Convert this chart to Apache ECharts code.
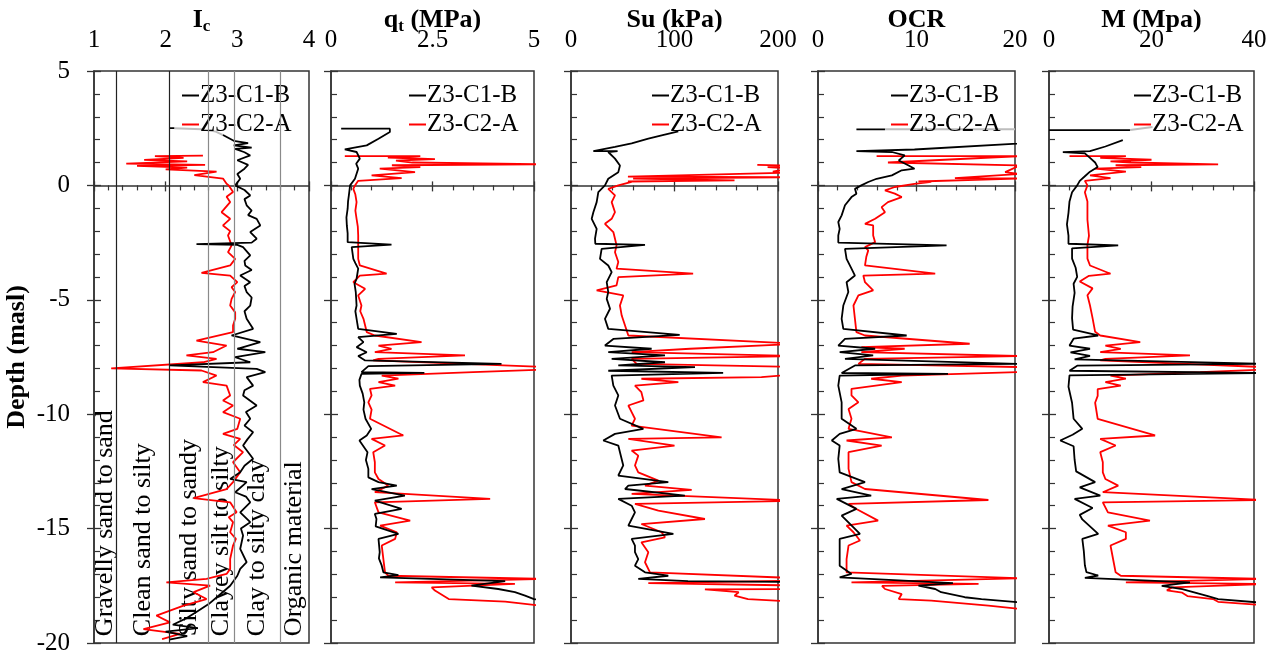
<!DOCTYPE html>
<html><head><meta charset="utf-8">
<script src="https://cdn.jsdelivr.net/npm/echarts@6/dist/echarts.min.js"></script>
<style>html,body{margin:0;padding:0;background:#fff}#c{width:1285px;height:655px}</style>
</head><body><div id="c"></div>
<script>
// ---------------- DATA: [value, depth (masl)]; ['-','-'] marks a gap ----------------
const seriesNames = ['Z3-C1-B', 'Z3-C2-A'];

// Ic zone boundaries and labels
const icZones = [1.31, 2.05, 2.6, 2.95, 3.6];
const icZoneLabels = ['Gravelly sand to sand', 'Clean sand to silty', 'Silty sand to sandy', 'Clayey silt to silty', 'Clay to silty clay', 'Organic material'];

const icC1 = [[2.06,2.5],[2.12,2.5],['-','-'],[2.8,2.2],[2.95,1.95],[3.15,1.85],[2.95,1.75],[3.2,1.65],[2.97,1.6],[3.1,1.45],[3.18,1.31],[3.0,1.1],[3.15,0.9],[3.1,0.73],[3.0,0.5],[3.04,0.29],[2.97,0],[3.1,-0.2],[3.18,-0.44],[3.1,-0.6],[3.13,-0.87],[3.2,-1.1],[3.15,-1.3],[3.27,-1.46],[3.32,-1.75],[3.18,-2.04],[3.27,-2.33],[3.2,-2.5],[2.43,-2.57],[3.0,-2.6],[3.08,-2.7],[3.18,-3.06],[3.1,-3.3],[3.11,-3.5],[3.2,-3.7],[3.04,-3.94],[3.18,-4.23],[3.1,-4.4],[3.13,-4.66],[3.2,-4.9],[3.18,-5.25],[3.1,-5.5],[3.13,-5.83],[3.22,-6.27],[2.92,-6.56],[3.32,-6.85],[3.0,-7.14],[3.39,-7.29],[2.97,-7.51],[3.18,-7.73],[2.06,-7.87],[3.27,-8.02],[3.39,-8.16],[3.13,-8.38],[3.22,-8.75],[3.1,-8.95],[3.08,-9.18],[3.27,-9.62],[3.12,-9.9],[3.18,-10.2],[3.1,-10.5],[3.22,-10.79],[3.14,-11.1],[3.08,-11.37],[3.22,-11.95],[3.1,-12.25],[3.04,-12.54],[2.9,-12.83],[3.13,-12.97],[2.97,-13.41],[3.12,-13.6],[3.18,-13.85],[3.04,-14.29],[3.18,-14.72],[3.05,-15.0],[3.08,-15.3],[3.04,-15.89],[3.13,-16.47],[3.04,-16.76],[3.0,-17.06],[2.9,-17.5],[2.75,-17.9],[2.6,-18.3],[2.45,-18.6],[2.3,-18.9],[2.1,-19.2],[2.45,-19.35],[2.0,-19.5],[2.3,-19.7],[2.05,-19.85]];
const icC2 = [[2.52,1.3],[1.85,1.28],[2.25,1.2],[1.7,1.12],[2.3,1.05],[1.45,0.95],[2.55,0.9],[1.6,0.85],[2.3,0.78],[2.0,0.7],[2.71,0.6],[2.4,0.45],[2.8,0.3],[2.85,0.07],[2.88,0],[2.94,-0.29],[2.85,-0.5],[2.9,-0.73],[2.78,-1.17],[2.9,-1.46],[2.8,-1.75],[2.9,-2.0],[2.87,-2.19],[2.92,-2.62],[2.87,-2.92],[2.97,-3.21],[2.9,-3.5],[2.5,-3.82],[2.9,-3.94],[3.0,-4.23],[2.92,-4.45],[2.97,-4.66],[2.92,-4.96],[2.9,-5.25],[2.97,-5.55],[2.97,-5.83],[2.94,-6.12],[2.94,-6.41],[2.43,-6.78],[2.85,-7.0],[2.66,-7.29],[2.29,-7.43],[2.71,-7.58],[2.52,-7.73],[1.24,-8.0],[2.5,-8.09],[2.71,-8.31],[2.52,-8.6],[2.85,-8.75],[2.9,-9.18],[2.8,-9.4],[2.94,-9.62],[2.8,-9.91],[3.04,-10.2],[3.0,-10.64],[2.8,-10.86],[3.04,-11.08],[2.95,-11.35],[3.08,-11.66],[2.94,-12.1],[3.04,-12.54],[2.94,-12.97],[2.85,-13.27],[2.39,-13.67],[2.9,-13.85],[2.99,-14.29],[2.88,-14.5],[2.94,-14.72],[2.9,-15.16],[2.98,-15.45],[2.94,-15.74],[2.9,-16.33],[2.9,-16.76],[2.85,-16.98],[2.57,-17.2],[2.01,-17.35],[2.62,-17.49],[2.39,-17.78],[2.57,-18.08],[2.25,-18.37],[1.87,-18.8],[2.06,-19.1],[1.69,-19.39],[2.2,-19.6],[1.95,-19.83]];
const icGrey = [[2.12,2.5],[2.5,2.45],[2.7,2.35],[2.8,2.2]];

const qtC1 = [[0.25,2.48],[1.45,2.48],[1.45,2.33],[1.17,2.04],[0.88,1.75],[0.34,1.57],[0.63,1.46],[0.71,1.17],[0.62,0.95],[0.67,0.73],[0.59,0.29],[0.47,0],[0.44,-0.44],[0.42,-0.7],[0.41,-1.02],[0.38,-1.4],[0.39,-1.75],[0.41,-2.1],[0.41,-2.48],[1.49,-2.59],[0.51,-2.7],[0.55,-3.21],[0.6,-3.4],[0.67,-3.64],[0.63,-4.08],[0.58,-4.3],[0.61,-4.66],[0.63,-5.25],[0.6,-5.5],[0.63,-5.83],[0.67,-6.27],[1.62,-6.49],[0.67,-6.63],[0.8,-6.85],[0.63,-7.07],[0.88,-7.29],[0.67,-7.46],[0.84,-7.65],[4.2,-7.8],[0.92,-7.9],[0.75,-8.16],[2.3,-8.19],[0.75,-8.24],[0.7,-8.5],[0.71,-8.75],[0.78,-9.1],[0.82,-9.48],[0.8,-9.8],[0.85,-10.2],[0.99,-10.64],[0.88,-10.93],[0.7,-11.15],[0.9,-11.66],[0.86,-12.0],[0.92,-12.39],[0.92,-12.76],[1.17,-12.97],[1.62,-13.12],[1.0,-13.27],[1.82,-13.56],[1.08,-13.78],[1.74,-14.14],[1.08,-14.36],[1.12,-14.58],[1.1,-14.9],[1.66,-15.23],[1.17,-15.45],[1.2,-16.03],[1.18,-16.3],[1.25,-16.62],[1.29,-16.91],[1.66,-17.03],[1.21,-17.13],[4.29,-17.3],[3.46,-17.49],[4.12,-17.64],[4.53,-17.78],[4.78,-17.93],[5.0,-18.08],[5.4,-18.2]];
const qtC2 = [[0.34,1.28],[2.2,1.28],[1.4,1.22],[2.56,1.15],[1.6,1.08],[2.0,1.0],[5.3,0.92],[1.5,0.88],[2.2,0.8],[1.2,0.73],[2.07,0.58],[1.0,0.44],[1.74,0.32],[0.67,0.2],[0.59,0],[0.55,-0.15],[0.6,-0.4],[0.63,-0.73],[0.6,-1.1],[0.63,-1.46],[0.66,-1.8],[0.67,-2.19],[0.67,-2.62],[0.67,-2.92],[0.67,-3.21],[0.71,-3.5],[1.37,-3.86],[0.71,-3.94],[0.55,-4.23],[0.84,-4.52],[0.67,-4.81],[0.75,-5.25],[0.72,-5.5],[0.8,-5.83],[0.88,-6.41],[1.08,-6.56],[2.23,-6.85],[1.17,-7.0],[1.49,-7.14],[1.08,-7.29],[3.3,-7.43],[1.17,-7.58],[1.04,-7.65],[5.3,-7.94],[5.3,-8.05],[3.5,-8.16],[1.25,-8.31],[1.66,-8.45],[1.17,-8.6],[1.58,-8.75],[0.96,-8.89],[1.0,-9.18],[0.92,-9.48],[1.0,-9.8],[0.96,-10.2],[1.78,-10.93],[1.0,-11.08],[1.33,-11.37],[1.04,-11.66],[1.08,-12.1],[1.08,-12.54],[1.17,-12.83],[1.41,-13.12],[1.08,-13.41],[3.92,-13.7],[1.08,-13.85],[1.17,-14.29],[1.95,-14.65],[1.21,-14.87],[1.62,-15.16],[1.58,-15.45],[1.25,-15.74],[1.29,-16.33],[1.33,-16.91],[1.41,-17.06],[5.3,-17.2],[1.58,-17.35],[4.53,-17.42],[2.48,-17.57],[2.56,-17.71],[2.9,-18.08],[4.29,-18.19],[5.3,-18.4]];

const suC1 = [[103.7,2.36],[87.6,2.19],[74.7,2.04],[58.6,1.84],[42.5,1.68],[21.6,1.5],[45,1.5],[36,1.46],[42.5,1.17],[47.3,0.87],[45.7,0.58],[36,0.29],[32.8,0],[26.4,-0.29],[24.8,-0.73],[21.6,-1.17],[20,-1.46],[24.8,-1.9],[23.2,-2.33],[23.5,-2.55],[71.5,-2.6],[29.6,-2.77],[28,-3.21],[36,-3.5],[39.3,-3.79],[34.5,-4.23],[36,-4.66],[34.5,-4.96],[37.7,-5.39],[32.8,-5.83],[36,-6.27],[105,-6.53],[40.9,-6.71],[32.8,-7.0],[77.9,-7.14],[36,-7.29],[90.8,-7.43],[39.3,-7.58],[90.8,-7.73],[45.7,-7.87],[119.8,-7.94],[36,-8.1],[147,-8.19],[39.3,-8.31],[40.9,-8.75],[45.7,-9.18],[42.5,-9.62],[47.3,-10.2],[69.9,-10.64],[42.5,-10.86],[31.2,-11.15],[45.7,-11.37],[47.3,-11.66],[50.5,-12.24],[45.7,-12.68],[94,-12.97],[55.4,-13.12],[52.2,-13.27],[110,-13.56],[45.7,-13.7],[58.6,-14.0],[61.8,-14.29],[58.6,-14.58],[55.4,-14.87],[98.9,-15.23],[58.6,-15.45],[61.8,-15.74],[61.8,-16.03],[65,-16.33],[61.8,-16.62],[71.5,-16.91],[94,-17.06],[65,-17.2],[113,-17.3],[250,-17.35]];
const suC2 = [[180,0.9],[205,0.87],[190,0.8],[210,0.75],[195,0.6],[205,0.55],[55,0.38],[210,0.36],[60,0.3],[158,0.22],[55,0.17],[58.6,0.15],[45.7,0],[36,-0.15],[42.5,-0.44],[39.3,-0.73],[42.5,-1.17],[39.3,-1.46],[32.8,-1.68],[40.9,-2.04],[42.5,-2.33],[44,-2.62],[42.5,-2.92],[45.7,-3.35],[44,-3.64],[118,-3.86],[45.7,-4.01],[44,-4.37],[24.8,-4.59],[50.5,-4.81],[47.3,-5.25],[49,-5.69],[52.2,-6.12],[55.4,-6.56],[220,-6.92],[115,-7.14],[58.6,-7.29],[220,-7.46],[58.6,-7.58],[63.4,-7.8],[220,-7.94],[220,-8.24],[184,-8.38],[68,-8.45],[103.7,-8.6],[61.8,-8.75],[68,-9.04],[70,-9.4],[55.4,-9.62],[58.6,-9.91],[61.8,-10.2],[58.6,-10.5],[145.5,-11.01],[55.4,-11.08],[100,-11.37],[58.6,-11.59],[65,-11.81],[61.8,-12.24],[65,-12.54],[84.4,-12.9],[71.5,-13.12],[116.6,-13.31],[58.6,-13.48],[220,-13.78],[61.8,-13.92],[84.4,-14.21],[129.4,-14.58],[68,-14.8],[87.6,-15.16],[90.8,-15.38],[68,-15.6],[74.7,-16.03],[71.5,-16.47],[76.3,-16.91],[220,-17.17],[220,-17.27],[74.7,-17.38],[220,-17.49],[220,-17.64],[129.4,-17.66],[162,-17.78],[158,-17.93],[171,-18.08],[220,-18.2]];

const ocrC1 = [[3.9,2.45],[6.8,2.45],['-','-'],[25,1.95],[9.8,1.57],[3.9,1.5],[7.5,1.46],[8.8,1.31],[8.2,1.09],[9.2,0.87],[9.8,0.73],[8.5,0.66],[7.5,0.44],[5.95,0.29],[5.1,0.15],[4.4,0],[3.75,-0.15],[3.9,-0.36],[3.4,-0.51],[2.74,-0.87],[2.4,-1.31],[2.06,-1.6],[2.2,-1.9],[2.06,-2.19],[2.06,-2.5],[13.05,-2.62],[2.74,-2.77],[2.9,-3.21],[3.4,-3.64],[3.75,-3.94],[2.9,-4.23],[3.08,-4.66],[2.57,-5.25],[2.4,-5.83],[2.57,-6.27],[9.0,-6.56],[2.74,-6.71],[2.06,-7.0],[5.8,-7.14],[2.2,-7.29],[5.6,-7.43],[2.74,-7.58],[20.5,-7.8],[3.75,-7.87],[2.4,-8.2],[13.2,-8.24],[2.2,-8.31],[2.06,-8.75],[2.4,-9.48],[2.4,-10.2],[3.9,-10.64],[2.2,-10.86],[1.4,-11.15],[2.2,-11.37],[2.06,-11.95],[2.2,-12.54],[4.77,-12.97],[2.4,-13.27],[5.4,-13.56],[1.9,-13.7],[3.9,-14.14],[2.4,-14.43],[4.26,-15.23],[2.2,-15.45],[2.2,-16.03],[2.2,-16.62],[3.4,-16.98],[2.2,-17.13],[13.7,-17.38],[10.2,-17.49],[11.9,-17.64],[12.5,-17.78],[14.9,-18.0],[16.6,-18.08],[20.5,-18.22]];
const ocrC2 = [[5.95,1.28],[20.5,1.28],[7.1,1.0],[20.5,0.87],[19,0.58],[20.5,0.5],[13.9,0.32],[20.5,0.3],[10.2,0.17],[11.5,0.15],[9.8,0.07],[7.8,-0.07],[6.8,-0.22],[7.8,-0.36],[8.5,-0.51],[7.1,-0.73],[6.46,-0.95],[6.8,-1.17],[5.8,-1.46],[4.77,-1.68],[5.6,-1.75],[5.6,-2.19],[5.8,-2.48],[4.77,-2.7],[5.1,-2.84],[4.9,-3.13],[4.77,-3.5],[11.9,-3.86],[4.6,-3.94],[4.77,-4.23],[5.6,-4.59],[4.1,-4.81],[3.6,-5.25],[3.75,-5.83],[3.9,-6.41],[4.77,-6.56],[15.4,-6.92],[4.4,-7.07],[8.8,-7.14],[4.4,-7.29],[20.5,-7.46],[4.77,-7.58],[4.1,-7.8],[20.5,-7.94],[20.5,-8.16],[8.5,-8.31],[5.4,-8.45],[8.5,-8.6],[3.4,-8.89],[3.4,-9.18],[4.1,-9.48],[3.1,-9.77],[3.4,-10.2],[3.1,-10.64],[7.5,-11.01],[2.9,-11.15],[6.46,-11.37],[3.1,-11.66],[3.1,-12.39],[3.4,-12.97],[4.77,-13.27],[17.3,-13.75],[3.1,-13.92],[3.9,-14.14],[6.1,-14.65],[2.9,-14.87],[3.6,-15.16],[4.26,-15.52],[3.1,-15.74],[2.9,-16.33],[2.9,-16.91],[20.5,-17.17],[3.4,-17.35],[16.3,-17.42],[6.5,-17.5],[6.8,-17.64],[8.5,-17.86],[8.2,-18.08],[11.5,-18.15],[17.3,-18.37],[20.5,-18.51]];
const ocrGrey = [[6.8,2.45],[20,2.45]];

const mC1 = [[0,2.42],[15.8,2.42],['-','-'],[14.4,1.98],[11,1.7],[8.0,1.5],[2.7,1.45],[7,1.4],[8,1.2],[9,1.0],[9.5,0.8],[8,0.6],[7,0.4],[6,0.2],[5.5,0],[4.5,-0.3],[4,-0.7],[3.8,-1.2],[3.5,-1.7],[3.8,-2.2],[3.8,-2.55],[13.5,-2.62],[4.5,-2.75],[4.5,-3.2],[5.2,-3.6],[5.5,-4.0],[4.8,-4.3],[5,-4.7],[4.6,-5.3],[4.5,-5.8],[4.7,-6.3],[9.6,-6.56],[4.8,-6.7],[4,-7.0],[8,-7.14],[4.2,-7.3],[8,-7.45],[5,-7.6],[42,-7.8],[5.5,-7.88],[4,-8.1],[42,-8.2],[4,-8.3],[3.8,-8.8],[4.5,-9.5],[4.8,-10.2],[6.5,-10.64],[4.6,-10.9],[2.2,-11.15],[4.8,-11.4],[5,-12],[5.3,-12.5],[9,-12.97],[6,-13.2],[10,-13.56],[5,-13.7],[8.5,-14.1],[6,-14.4],[6.5,-14.6],[9.6,-15.23],[6.5,-15.45],[6.8,-16.0],[7,-16.6],[7.3,-16.9],[9.6,-17.05],[7,-17.15],[27.5,-17.35],[22,-17.5],[26,-17.65],[28.5,-17.8],[31,-17.95],[33,-18.08],[42,-18.25]];
const mC2 = [[4,1.28],[15,1.28],[10,1.2],[20,1.12],[12,1.05],[16,1.0],[33,0.92],[13,0.88],[18,0.8],[9,0.73],[15,0.6],[8,0.44],[12,0.32],[7,0.2],[7.5,0],[7,-0.3],[7.5,-0.7],[7.5,-1.5],[7.8,-2.2],[7.5,-2.6],[7.5,-3.2],[8,-3.5],[12,-3.86],[7.8,-3.95],[6,-4.2],[8.5,-4.5],[7.5,-4.8],[8,-5.25],[8.5,-5.8],[9,-6.4],[10,-6.56],[17.8,-6.85],[11,-7.0],[14,-7.14],[10,-7.29],[27.5,-7.43],[11,-7.58],[10,-7.65],[42,-7.94],[42,-8.05],[29.5,-8.16],[12,-8.31],[15,-8.45],[11,-8.6],[14,-8.75],[9.5,-8.9],[9.5,-9.2],[9,-9.5],[9.5,-10.2],[20.7,-10.93],[10,-11.08],[13,-11.37],[10,-11.66],[10.5,-12.1],[10.5,-12.54],[11,-12.83],[13.5,-13.12],[10.5,-13.41],[42,-13.75],[10.5,-13.85],[11.5,-14.29],[19.7,-14.65],[11.5,-14.87],[15,-15.16],[15,-15.45],[12,-15.74],[12.5,-16.33],[13,-16.91],[14,-17.06],[42,-17.2],[15,-17.35],[42,-17.42],[24,-17.57],[23,-17.7],[26,-17.8],[27,-17.95],[32,-18.08],[33,-18.2],[42,-18.35]];
const mGrey = [[15.8,2.42],[20.2,2.55]];

// ---------------- CHART ----------------
const FONT = 'Liberation Serif';
const panels = [
  {left: 94,  width: 215, min: 1, max: 4,   interval: 1,   title: '{b|I}{s|c}',          data: [icC1, icC2], grey: icGrey, legendLeft: 183},
  {left: 331, width: 203, min: 0, max: 5,   interval: 2.5, title: '{b|q}{s|t}{b| (MPa)}', data: [qtC1, qtC2], grey: null, legendLeft: 410},
  {left: 571, width: 207, min: 0, max: 200, interval: 100, title: '{b|Su (kPa)}',         data: [suC1, suC2], grey: null, legendLeft: 653},
  {left: 818, width: 197, min: 0, max: 20,  interval: 10,  title: '{b|OCR}',              data: [ocrC1, ocrC2], grey: ocrGrey, legendLeft: 892},
  {left: 1049,width: 205, min: 0, max: 40,  interval: 20,  title: '{b|M (Mpa)}',          data: [mC1, mC2], grey: mGrey, legendLeft: 1135}
];
const TOP = 71, HEIGHT = 572;
const axisCol = '#333';
const grids = [], xAxes = [], yAxes = [], series = [], legends = [];
panels.forEach((p, i) => {
  grids.push({left: p.left, width: p.width, top: TOP, height: HEIGHT, containLabel: false, outerBoundsMode: 'none',
    show: true, borderColor: axisCol, borderWidth: 1.5, backgroundColor: 'transparent'});
  xAxes.push({
    type: 'value', gridIndex: i, position: 'top', min: p.min, max: p.max, interval: p.interval,
    name: p.title, nameLocation: 'middle', nameGap: 36, nameMoveOverlap: false,
    nameTextStyle: {verticalAlign: 'bottom', rich: {
      b: {fontFamily: FONT, fontWeight: 'bold', fontSize: 26, color: '#000', lineHeight: 30},
      s: {fontFamily: FONT, fontWeight: 'bold', fontSize: 17, color: '#000', verticalAlign: 'bottom', lineHeight: 30, padding: [10, 0, 0, 0]}
    }},
    axisLine: {show: true, lineStyle: {color: axisCol, width: 1.5}},
    axisTick: {show: true, inside: true, length: 6, lineStyle: {color: axisCol, width: 1.3}},
    minorTick: {show: true, splitNumber: 5, length: 5, lineStyle: {color: axisCol, width: 1.2}},
    axisLabel: {show: true, margin: 18, fontFamily: FONT, fontSize: 25, color: '#000'},
    splitLine: {show: false}
  });
  xAxes.push({
    type: 'value', gridIndex: i, position: 'top', min: p.min, max: p.max, interval: p.interval,
    axisLine: {show: false}, axisLabel: {show: false}, splitLine: {show: false},
    axisTick: {show: true, inside: false, length: 4, lineStyle: {color: axisCol, width: 1.3}}
  });
  yAxes.push({
    type: 'value', gridIndex: i, position: 'left', min: -20, max: 5, interval: 5,
    name: i === 0 ? 'Depth (masl)' : '', nameLocation: 'middle', nameRotate: 90, nameGap: 64, nameMoveOverlap: false,
    nameTextStyle: {fontFamily: FONT, fontWeight: 'bold', fontSize: 26, color: '#000'},
    axisLine: {show: true, lineStyle: {color: axisCol, width: 1.5}},
    axisTick: {show: true, inside: true, length: 7, lineStyle: {color: axisCol, width: 1.3}},
    minorTick: {show: true, splitNumber: 5, length: 6, lineStyle: {color: axisCol, width: 1.2}},
    axisLabel: {show: i === 0, margin: 24, fontFamily: FONT, fontSize: 25, color: '#000'},
    splitLine: {show: false}
  });
  yAxes.push({
    type: 'value', gridIndex: i, position: 'left', min: -20, max: 5, interval: 5,
    axisLine: {show: false}, axisLabel: {show: false}, splitLine: {show: false},
    axisTick: {show: true, inside: false, length: 7, lineStyle: {color: axisCol, width: 1.3}}
  });
  const colors = ['#000000', '#ff0000'];
  p.data.forEach((d, k) => {
    const s = {
      type: 'line', name: seriesNames[k], xAxisIndex: 2 * i, yAxisIndex: 2 * i, data: d,
      showSymbol: false, symbol: 'none', clip: true, connectNulls: false, animation: false,
      color: colors[k], lineStyle: {color: colors[k], width: 1.8}, z: k === 0 ? 4 : 3
    };
    if (i === 0 && k === 0) {
      s.markLine = {
        silent: true, symbol: ['none', 'none'], label: {show: false}, animation: false,
        data: icZones.map((v, j) => ({xAxis: v, lineStyle: {type: 'solid', width: 1.2, color: j < 2 ? '#222' : '#8a8a8a'}}))
      };
    }
    series.push(s);
  });
  if (p.grey) {
    series.push({type: 'line', name: 'connector', xAxisIndex: 2 * i, yAxisIndex: 2 * i, data: p.grey,
      symbol: 'none', lineStyle: {color: '#bdbdbd', width: 2}, z: 2, animation: false});
  }
  legends.push({
    data: seriesNames, orient: 'vertical', left: p.legendLeft - 1, top: 83, itemWidth: 17, itemHeight: 2, itemGap: 4,
    icon: 'rect', selectedMode: false, padding: 0,
    textStyle: {fontFamily: FONT, fontSize: 25, color: '#000', padding: [0, 0, 0, -4]}
  });
});

const chart = echarts.init(document.getElementById('c'));
chart.setOption({
  backgroundColor: '#fff', animation: false,
  grid: grids, xAxis: xAxes, yAxis: yAxes, series: series, legend: legends
});

// Zone labels inside the Ic panel, placed through the axis conversion
const bounds = [1].concat(icZones, [4]);
const labels = icZoneLabels.map((t, j) => {
  const mid = (bounds[j] + bounds[j + 1]) / 2;
  const pt = chart.convertToPixel({xAxisIndex: 0, yAxisIndex: 0}, [mid, -19.7]);
  return {type: 'text', x: pt[0], y: pt[1], rotation: Math.PI / 2, z: 1, silent: true,
    style: {text: t, fontFamily: FONT, fontSize: 26, fill: '#000', textAlign: 'left', textVerticalAlign: 'middle'}};
});
chart.setOption({graphic: labels});
</script></body></html>
